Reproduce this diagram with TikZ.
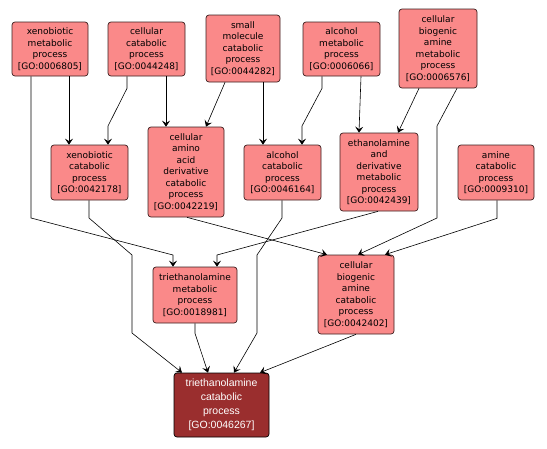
\documentclass[tikz,border=0pt]{standalone}
\usepackage{fontspec}
\setmainfont{DejaVu Sans}
\newfontfamily\darkfont{Liberation Sans}
\usepackage{xcolor}
\usepackage{tikz}
\usetikzlibrary{arrows.meta,positioning}
\definecolor{gopink}{RGB}{250,137,137}
\definecolor{godark}{RGB}{154,46,46}
\definecolor{goedge}{RGB}{60,30,30}

\begin{document}
\begin{tikzpicture}[
  x=1pt, y=-1pt,
  gobox/.style={rectangle, rounded corners=3pt, draw=goedge, fill=gopink,
                line width=0.7pt, align=center, inner sep=0pt,
                font=\fontsize{9}{11.5}\selectfont},
  topbox/.style={rectangle, rounded corners=3pt, draw=black, fill=godark,
                 line width=0.7pt, align=center, inner sep=0pt, text=white,
                 font=\darkfont\fontsize{10.5}{14}\selectfont},
  arr/.style={->, >={Stealth[length=6pt,width=8pt,inset=2.5pt]}, line width=0.6pt, black},
]
\useasboundingbox (0,0) rectangle (547,448);

%% Top row
\node[gobox, minimum width=76, minimum height=54] (xmp) at (50,49)
  {xenobiotic\\metabolic\\process\\{[}GO:0006805{]}};
\node[gobox, minimum width=77, minimum height=54] (ccp) at (146.5,49)
  {cellular\\catabolic\\process\\{[}GO:0044248{]}};
\node[gobox, minimum width=74, minimum height=67] (smc) at (243,48.5)
  {small\\molecule\\catabolic\\process\\{[}GO:0044282{]}};
\node[gobox, minimum width=77, minimum height=54] (amp) at (341.5,49)
  {alcohol\\metabolic\\process\\{[}GO:0006066{]}};
\node[gobox, minimum width=78, minimum height=79] (cbm) at (438,48.5)
  {cellular\\biogenic\\amine\\metabolic\\process\\{[}GO:0006576{]}};

%% Middle row
\node[gobox, minimum width=77, minimum height=55] (xcp) at (89.5,172.5)
  {xenobiotic\\catabolic\\process\\{[}GO:0042178{]}};
\node[gobox, minimum width=76, minimum height=90] (caa) at (186,172)
  {cellular\\amino\\acid\\derivative\\catabolic\\process\\{[}GO:0042219{]}};
\node[gobox, minimum width=77, minimum height=55] (acp) at (282.5,172.5)
  {alcohol\\catabolic\\process\\{[}GO:0046164{]}};
\node[gobox, minimum width=78, minimum height=78] (eth) at (379,172)
  {ethanolamine\\and\\derivative\\metabolic\\process\\{[}GO:0042439{]}};
\node[gobox, minimum width=76, minimum height=55] (acat) at (496,172.5)
  {amine\\catabolic\\process\\{[}GO:0009310{]}};

%% Lower row
\node[gobox, minimum width=84, minimum height=56] (tmp) at (195,295)
  {triethanolamine\\metabolic\\process\\{[}GO:0018981{]}};
\node[gobox, minimum width=76, minimum height=79] (cbc) at (356,294.5)
  {cellular\\biogenic\\amine\\catabolic\\process\\{[}GO:0042402{]}};

%% Term
\node[topbox, minimum width=95, minimum height=64] (tcp) at (221.5,405)
  {triethanolamine\\catabolic\\process\\{[}GO:0046267{]}};

%% Arrows
\draw[arr] ([xshift=19pt]xmp.south) -- ([xshift=-20.5pt]xcp.north);
\draw[arr] ([xshift=-19.5pt]ccp.south) -- ++(0,12) -- (108,126) -- ([xshift=18.5pt]xcp.north);
\draw[arr] ([xshift=19.5pt]ccp.south) -- ([xshift=-20pt]caa.north);
\draw[arr] ([xshift=-18pt]smc.south) -- ([xshift=20pt]caa.north);
\draw[arr] ([xshift=20pt]smc.south) -- ([xshift=-19.5pt]acp.north);
\draw[arr] ([xshift=-19.5pt]amp.south) -- ++(0,12) -- (302,126) -- ([xshift=19.5pt]acp.north);
\draw[arr] ([xshift=19.5pt]amp.south) -- ([xshift=-20pt]eth.north);
\draw[arr] ([xshift=-19pt]cbm.south) -- ([xshift=19pt]eth.north);
\draw[arr] ([xshift=19pt]cbm.south) -- (437,126) -- (437,218) -- ([xshift=2pt]cbc.north);
\draw[arr] ([xshift=1pt]acat.south) -- ++(0,18) -- ([xshift=29pt]cbc.north);
\draw[arr] ([xshift=1pt]caa.south) -- ([xshift=-29pt]cbc.north);
\draw[arr] ([xshift=-1pt]eth.south) -- (217,255) -- ([xshift=22pt]tmp.north);
\draw[arr] ([xshift=-19pt]xmp.south) -- (31,218) -- (173,255) -- ([xshift=-22pt]tmp.north);
\draw[arr] ([xshift=-0.5pt]xcp.south) -- (89,218) -- (132,255) -- (132,333) -- ([xshift=-39.5pt]tcp.north);
\draw[arr] (tmp.south) -- ++(0,10) -- ([xshift=-13.5pt]tcp.north);
\draw[arr] ([xshift=-0.5pt]acp.south) -- (282,218) -- (257,255) -- (257,333) -- ([xshift=12.5pt]tcp.north);
\draw[arr] (cbc.south) -- ([xshift=38.5pt]tcp.north);

\end{tikzpicture}
\end{document}
